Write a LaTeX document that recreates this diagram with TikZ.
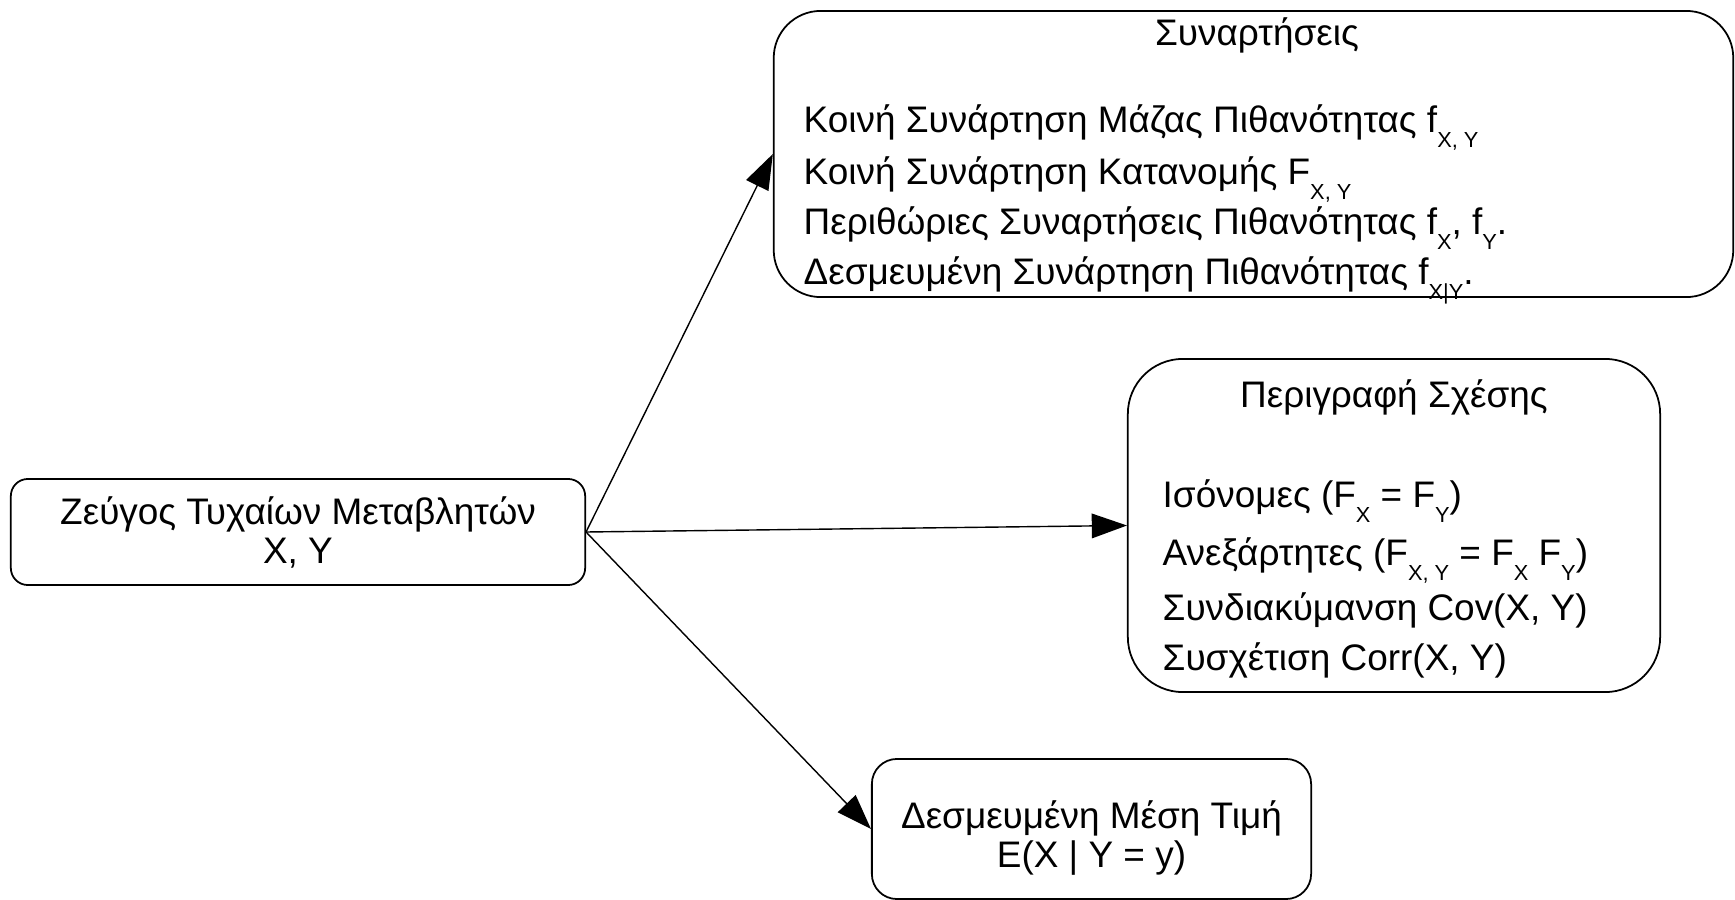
\documentclass[tikz,border=0pt]{standalone}
\usepackage{fontspec}
\setmainfont{Liberation Sans}
\usetikzlibrary{arrows.meta, positioning}

\newcommand{\lowidx}[1]{\raisebox{-4.3pt}{\fontsize{6.2}{7}\selectfont #1}}

\begin{document}
\begin{tikzpicture}[
    x=0.01cm, y=-0.01cm,
    every node/.style={font=\fontsize{10.5}{11.1}\selectfont},
    box/.style={rectangle, draw, line width=0.5pt, inner sep=0pt},
    item/.style={anchor=base west, inner sep=0pt},
    heading/.style={anchor=base, inner sep=0pt},
    arrow/.style={-{Triangle[length=10pt, width=7pt]}, line width=0.4pt}
]

\path[use as bounding box] (0,0) rectangle (1735,900);

\node[box, rounded corners=0.17cm, minimum width=5.74cm, minimum height=1.06cm, align=center] (pair) at (298,532)
{Ζεύγος Τυχαίων Μεταβλητών\\X, Y};

\node[box, rounded corners=0.47cm, minimum width=9.59cm, minimum height=2.86cm] (funcs) at (1253.5,154) {};
\node[box, rounded corners=0.55cm, minimum width=5.32cm, minimum height=3.33cm] (rel) at (1394,525.5) {};
\node[box, rounded corners=0.25cm, minimum width=4.39cm, minimum height=1.4cm] (cond) at (1091.5,829) {};
\node[align=center, inner sep=0pt] (cond-t) at (1091.5,838) {Δεσμευμένη Μέση Τιμή\\E(X | Y = y)};

% Συναρτήσεις
\node[heading] (funcs-h) at (1257,45) {Συναρτήσεις};
\node[item] (funcs-a) at (803,132) {Κοινή Συνάρτηση Μάζας Πιθανότητας f\lowidx{X, Y}};
\node[item] (funcs-b) at (803,184) {Κοινή Συνάρτηση Κατανομής F\lowidx{X, Y}};
\node[item] (funcs-c) at (803,234) {Περιθώριες Συναρτήσεις Πιθανότητας f\lowidx{X}, f\lowidx{Y}.};
\node[item] (funcs-d) at (803,284) {Δεσμευμένη Συνάρτηση Πιθανότητας f\lowidx{X|Y}.};

% Περιγραφή Σχέσης
\node[heading] (rel-h) at (1394,407) {Περιγραφή Σχέσης};
\node[item] (rel-a) at (1162,507) {Ισόνομες (F\lowidx{X} = F\lowidx{Y})};
\node[item] (rel-b) at (1162,565) {Ανεξάρτητες (F\lowidx{X, Y} = F\lowidx{X} F\lowidx{Y})};
\node[item] (rel-c) at (1162,620) {Συνδιακύμανση Cov(X, Y)};
\node[item] (rel-d) at (1162,670) {Συσχέτιση Corr(X, Y)};

\draw[arrow] (pair.east) -- (funcs.west);
\draw[arrow] (pair.east) -- (rel.west);
\draw[arrow] (pair.east) -- (cond.west);

\end{tikzpicture}
\end{document}
